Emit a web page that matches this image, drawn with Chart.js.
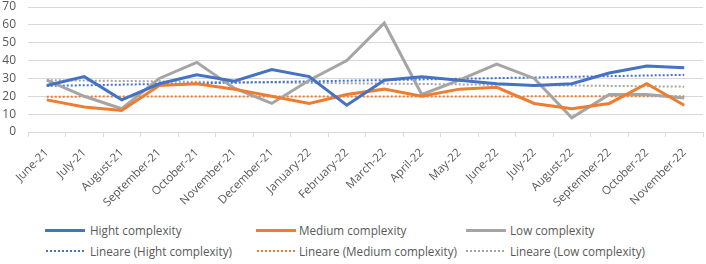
<!DOCTYPE html>
<html>
<head>
<meta charset="utf-8">
<script src="https://cdn.jsdelivr.net/npm/chart.js@4/dist/chart.umd.min.js"></script>
<style>
  body { margin: 0; background: #fff; font-family: "Open Sans", sans-serif; }
  #wrap { position: relative; width: 706px; height: 264px; }
  #chartBox { position: absolute; left: 0; top: 0; width: 706px; height: 218px; }
  .legend { position: absolute; font-size: 11.7px; line-height: 16px; color: #595959; white-space: nowrap; }
  .legend .sw { position: absolute; height: 0; }
</style>
</head>
<body>
<div id="wrap">
  <div id="chartBox"><canvas id="chart"></canvas></div>
  <div id="legend"></div>
</div>
<script>
const months = ['June-21', 'July-21', 'August-21', 'September-21', 'October-21', 'November-21',
  'December-21', 'January-22', 'February-22', 'March-22', 'April-22', 'May-22', 'June-22',
  'July-22', 'August-22', 'September-22', 'October-22', 'November-22'];

const highValues = [26, 31, 18, 27, 32, 28.5, 35, 31, 15, 29, 31, 29, 27, 26, 27, 33, 37, 36];
const mediumValues = [18, 14, 12, 26, 27, 24, 20, 16, 21, 24, 20, 24, 25, 16, 13, 16, 27, 15];
const lowValues = [29, 20, 13, 30, 39, 24.5, 16, 29, 40, 61, 21, 29, 38, 30, 8, 21, 21, 19];

// trend lines: value at first and last month
const highTrend = [25.8, 32];
const mediumTrend = [19.8, 20];
const lowTrend = [29, 25.4];

const yTicks = [0, 10, 20, 30, 40, 50, 60, 70];

const blue = '#4472C4';
const orange = '#ED7D31';
const gray = '#A5A5A5';

function trendData(ends) {
  return months.map((m, i) => i === 0 ? ends[0] : (i === months.length - 1 ? ends[1] : null));
}

function lineSet(label, data, color) {
  return { label, data, borderColor: color, backgroundColor: color, borderWidth: 3,
    pointRadius: 0, tension: 0, order: 1 };
}
function trendSet(label, ends, color) {
  return { label, data: trendData(ends), borderColor: color, backgroundColor: color,
    borderWidth: 2, borderDash: [2, 2], pointRadius: 0, spanGaps: true, order: 2 };
}

const ctx = document.getElementById('chart').getContext('2d');
new Chart(ctx, {
  type: 'line',
  data: {
    labels: months,
    datasets: [
      lineSet('Hight complexity', highValues, blue),
      lineSet('Medium complexity', mediumValues, orange),
      lineSet('Low complexity', lowValues, gray),
      trendSet('Lineare (Hight complexity)', highTrend, blue),
      trendSet('Lineare (Medium complexity)', mediumTrend, orange),
      trendSet('Lineare (Low complexity)', lowTrend, gray)
    ]
  },
  options: {
    responsive: true,
    maintainAspectRatio: false,
    animation: false,
    layout: { padding: { top: 0, right: 3, left: 0, bottom: 0 } },
    plugins: { legend: { display: false }, tooltip: { enabled: false } },
    scales: {
      x: {
        offset: true,
        grid: { drawOnChartArea: false, drawTicks: true, tickLength: 5, color: '#d9d9d9', offset: true },
        border: { color: '#d9d9d9' },
        ticks: { color: '#595959', font: { family: 'Open Sans', size: 11.5 }, minRotation: 45, maxRotation: 45, autoSkip: false, padding: 9 },
        afterFit: s => { s.height = 86; }
      },
      y: {
        min: 0, max: 70,
        afterBuildTicks: s => { s.ticks = yTicks.map(v => ({ value: v })); },
        grid: { color: '#d9d9d9', drawTicks: false },
        border: { display: false },
        ticks: { color: '#595959', font: { family: 'Open Sans', size: 12 }, padding: 12, autoSkip: false },
        afterFit: s => { s.width = 28; s.paddingTop = 7; s.paddingBottom = 0; }
      }
    }
  }
});

// legend laid out in three columns like the original
const legendItems = [
  { text: 'Hight complexity', color: blue, dotted: false, x: 45, tx: 90, y: 222 },
  { text: 'Medium complexity', color: orange, dotted: false, x: 256, tx: 299, y: 222 },
  { text: 'Low complexity', color: gray, dotted: false, x: 466, tx: 510, y: 222 },
  { text: 'Lineare (Hight complexity)', color: blue, dotted: true, x: 46, tx: 90, y: 243 },
  { text: 'Lineare (Medium complexity)', color: orange, dotted: true, x: 257, tx: 299, y: 243 },
  { text: 'Lineare (Low complexity)', color: gray, dotted: true, x: 466, tx: 510, y: 243 }
];
const legend = document.getElementById('legend');
legendItems.forEach(item => {
  const div = document.createElement('div');
  div.className = 'legend';
  div.style.left = item.tx + 'px';
  div.style.top = item.y + 'px';
  div.textContent = item.text;
  const sw = document.createElement('span');
  sw.className = 'sw';
  sw.style.left = (item.x - item.tx) + 'px';
  sw.style.width = (item.dotted ? 38 : 40) + 'px';
  sw.style.top = item.dotted ? '7px' : '6.5px';
  sw.style.borderTop = item.dotted ? '2px dotted ' + item.color : '3px solid ' + item.color;
  div.appendChild(sw);
  legend.appendChild(div);
});
</script>
</body>
</html>
